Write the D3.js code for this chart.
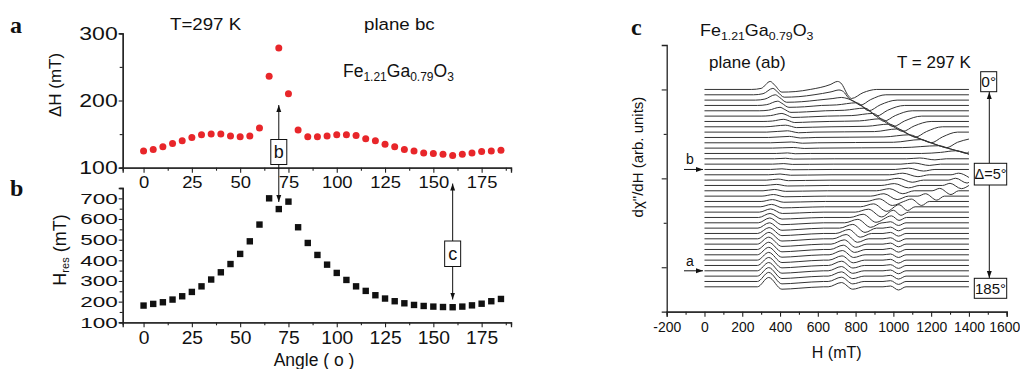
<!DOCTYPE html>
<html><head><meta charset="utf-8">
<script src="https://cdn.jsdelivr.net/npm/d3@7"></script>
<style>
body{margin:0;background:#fff}
svg{display:block;font-family:"Liberation Sans",Arial,sans-serif}
.sx{transform-box:fill-box}
</style></head><body>
<svg id="chart" width="1020" height="369"></svg>
<script>
// ---------- data ----------
const angles = [0,5,10,15,20,25,30,35,40,45,50,55,60,65,70,75,80,85,90,95,100,105,110,115,120,125,130,135,140,145,150,155,160,165,170,175,180,185];
const deltaH = [125,127,131,136,140,145,149,150,150,147,146,147,159,236,278,210,156,146,146,147,149,149,148,143,140,135,131,127,125,122,121,120,118,120,122,124,125,126];
const hRes = [181,189,197,210,226,247,274,307,342,382,431,492,573,700,648,684,560,484,426,379,339,305,274,252,231,215,202,192,184,179,176,174,173,176,182,190,202,213];
const angleTicks = [0,25,50,75,100,125,150,175];
const dHTicks = [100,200,300];
const hResTicks = [100,200,300,400,500,600,700];
const fieldTicks = [-200,0,200,400,600,800,1000,1200,1400,1600];
const traceTicks = [50/6, 100/6, 150/6, 200/6, 250/6];

// spectra, plane (ab), angles 0..185 step 5 (trace k = angle/5).
// Traces 0-12, read point by point: [field mT, offset in trace spacings]
const upperTraces = [
 [[0,0],[250,0],[300,0.2],[348,1.5],[372,0.8],[410,-0.5],[480,-0.4],[560,0],[665,0.9],[705,1.5],[722,1.2],[762,-1.2],[778,-1.7],[840,-0.6],[912,0],[1400,0]],
 [[0,0],[260,0],[310,0.2],[362,1.2],[385,0.6],[422,-0.45],[500,-0.35],[580,0],[670,0.55],[712,0.9],[735,0.6],[765,-0.68],[800,-1.43],[825,-1.95],[880,-0.9],[960,0],[1400,0]],
 [[0,0],[270,0],[320,0.2],[375,1.0],[398,0.5],[435,-0.4],[515,-0.3],[600,0],[680,0.3],[725,0.5],[760,0.25],[790,-0.2],[830,-1.07],[870,-1.99],[930,-0.9],[1020,0],[1400,0]],
 [[0,0],[280,0],[330,0.15],[388,0.8],[410,0.4],[447,-0.35],[530,-0.25],[620,0],[700,0.1],[804,0.5],[850,-0.51],[880,-1.22],[911,-2.0],[970,-0.9],[1060,0],[1400,0]],
 [[0,0],[290,0],[340,0.12],[400,0.65],[422,0.3],[458,-0.3],[540,-0.2],[640,0],[740,0.1],[849,0.5],[900,-0.73],[950,-1.95],[1010,-0.9],[1100,0],[1400,0]],
 [[0,0],[300,0],[350,0.1],[410,0.5],[432,0.25],[468,-0.25],[550,-0.15],[650,0],[780,0.1],[891,0.5],[950,-0.94],[1000,-1.95],[1060,-0.9],[1150,0],[1400,0]],
 [[0,0],[310,0],[360,0.08],[420,0.4],[442,0.2],[478,-0.2],[560,-0.1],[660,0],[820,0.1],[930,0.5],[1000,-0.96],[1050,-1.86],[1110,-0.85],[1200,0],[1400,0]],
 [[0,0],[320,0],[430,0.3],[452,0.15],[488,-0.15],[570,-0.08],[670,0],[860,0.1],[976,0.5],[1050,-0.86],[1100,-1.76],[1115,-1.95],[1175,-0.9],[1260,0],[1400,0]],
 [[0,0],[330,0],[440,0.25],[462,0.12],[498,-0.12],[580,0],[900,0.1],[1021,0.6],[1100,-0.75],[1150,-1.37],[1200,-2.0],[1260,-0.9],[1340,0],[1400,0]],
 [[0,0],[340,0],[450,0.2],[472,0.1],[508,-0.1],[590,0],[950,0.1],[1085,0.5],[1150,-0.38],[1200,-1.01],[1250,-1.63],[1280,-1.93],[1340,-0.9],[1400,-0.3]],
 [[0,0],[350,0],[460,0.15],[482,0.08],[518,-0.08],[600,0],[1000,0.1],[1145,0.6],[1200,-0.02],[1250,-0.64],[1300,-1.14],[1350,-1.63],[1385,-1.95],[1400,-1.7]],
 [[0,0],[360,0],[470,0.12],[492,0.06],[528,-0.06],[610,0],[1050,0.1],[1240,0.45],[1300,-0.13],[1350,-0.62],[1400,-1.13]],
 [[0,0],[380,0],[440,0.1],[480,-0.05],[560,0],[1150,0],[1250,0.2],[1330,0.5],[1400,-0.13]]
];
// Traces 13-37: resonance features [peak field, up, trough field, down] (null = none)
const lowL1 = [[430,0.1,470,0.05],[420,0.1,465,0.05],[410,0.12,460,0.06],[400,0.15,455,0.08],[390,0.2,445,0.1],[380,0.2,440,0.1],[370,0.25,430,0.1],[365,0.3,425,0.12],[360,0.35,420,0.15],[355,0.45,415,0.2],[350,0.6,412,0.25],[347,0.75,410,0.3],[345,0.9,410,0.35],[343,1.0,410,0.4],[342,1.1,410,0.4],[341,1.2,410,0.42],[340,1.3,410,0.43],[340,1.35,410,0.44],[340,1.4,410,0.45],[340,1.45,410,0.45],[340,1.5,410,0.45],[340,1.55,410,0.45],[340,1.6,410,0.45],[340,1.7,410,0.45],[340,1.75,410,0.45]];
const lowL2 = [[1140,0.15,1220,0.2],[1110,0.2,1190,0.25],[1080,0.25,1160,0.3],[1050,0.3,1130,0.35],[1025,0.35,1100,0.4],[1005,0.35,1080,0.45],[980,0.4,1050,0.55],[950,0.45,1020,0.65],[925,0.5,995,0.75],[895,0.55,965,0.85],[868,0.55,938,0.9],[840,0.6,908,0.9],[812,0.65,880,0.85],[785,0.7,850,0.8],[765,0.75,825,0.7],[750,0.8,810,0.65],[740,0.8,800,0.6],[735,0.8,795,0.55],[730,0.8,790,0.5],[728,0.8,788,0.5],[726,0.8,786,0.48],[725,0.8,785,0.47],[725,0.8,785,0.46],[725,0.8,785,0.45],[725,0.8,785,0.45]];
const lowL3 = [null,null,null,[1345,0.3,1400,0.5],[1330,0.35,1390,0.55],[1300,0.4,1360,0.6],[1245,0.45,1305,0.7],[1170,0.45,1230,0.75],[1095,0.45,1150,0.75],[1030,0.4,1075,0.7],[1000,0.35,1040,0.6],[990,0.3,1030,0.55],[985,0.2,1027,0.5],[985,0.2,1027,0.5],[985,0.2,1027,0.5],[985,0.2,1027,0.5],[985,0.2,1027,0.5],[985,0.2,1027,0.5],[985,0.15,1027,0.5],[985,0.15,1027,0.55],[985,0.15,1027,0.55],[985,0.15,1027,0.55],[985,0.15,1027,0.55],[985,0.15,1027,0.55],[985,0.15,1027,0.6]];

// ---------- helpers ----------
const svg = d3.select("#chart");
const ink = "#222";
const font = '"Liberation Sans",Arial,sans-serif';
const serif = '"Liberation Serif","Times New Roman",serif';
function styleAxis(g){
  g.select(".domain").attr("stroke", ink).attr("stroke-width", 1.3);
  g.selectAll(".tick line").attr("stroke", ink).attr("stroke-width", 1.1);
  g.selectAll("text").attr("fill", "#111").attr("font-family", font);
}
function stretch(sel, sx, origin){
  sel.attr("class","sx").style("transform-origin", origin).style("transform", `scaleX(${sx})`);
}
function txt(x,y,s,size,opts={}){
  const t = svg.append("text").attr("x",x).attr("y",y).attr("font-size",size).attr("fill",opts.fill||"#111")
    .attr("font-family",opts.family||font).attr("font-weight",opts.weight||"normal").attr("text-anchor",opts.anchor||"start");
  if(typeof s === "string") t.text(s); else s(t);
  return t;
}
function formula(t, small){
  const parts = [["Fe",0],["1.21",1],["Ga",0],["0.79",1],["O",0],["3",1]];
  parts.forEach(([s,sub],i)=>{
    const ts = t.append("tspan").text(s);
    if(sub) ts.attr("font-size", small).attr("dy", 4); else if(i>0) ts.attr("dy", -4);
  });
}
svg.append("defs").html(`<marker id="ah" viewBox="0 0 10 10" refX="10" refY="5" markerWidth="7" markerHeight="7" markerUnits="userSpaceOnUse" orient="auto"><path d="M0,1.5L10,5L0,8.5z" fill="#111"/></marker>`);

// ---------- panels a & b ----------
const xA = d3.scaleLinear().domain([-10.8, 190.2]).range([122.7, 511]);
const yA = d3.scaleLinear().domain([100, 300]).range([167.7, 33.3]);
const yB = d3.scaleLinear().domain([100, 750]).range([322.3, 188]);

function angleAxis(y, size, sx){
  svg.append("g").attr("transform", `translate(0,${y})`)
    .call(d3.axisBottom(xA).tickValues(d3.range(12.5,190,25)).tickSize(3).tickFormat("")).call(styleAxis);
  const g = svg.append("g").attr("transform", `translate(0,${y})`)
    .call(d3.axisBottom(xA).tickValues(angleTicks).tickSize(5).tickPadding(4)).call(styleAxis);
  g.selectAll("text").attr("font-size", size).attr("dy","0.71em");
  stretch(g.selectAll("text"), sx, "center");
}
function valueAxis(scale, minor, major, size, sx){
  svg.append("g").attr("transform", `translate(${xA.range()[0]},0)`)
    .call(d3.axisLeft(scale).tickValues(minor).tickSize(3).tickFormat("")).call(styleAxis);
  const g = svg.append("g").attr("transform", `translate(${xA.range()[0]},0)`)
    .call(d3.axisLeft(scale).tickValues(major).tickSize(4).tickPadding(1)).call(styleAxis);
  g.selectAll("text").attr("font-size", size);
  stretch(g.selectAll("text"), sx, "right center");
}
angleAxis(yA.range()[0], 16, 1.15);
valueAxis(yA, [150,250], dHTicks, 18, 1.28);
angleAxis(yB.range()[0], 18, 1.07);
valueAxis(yB, d3.range(150,750,100), hResTicks, 15, 1.5);

svg.append("g").selectAll("circle").data(angles).join("circle")
  .attr("cx", d=>xA(d)).attr("cy", (d,i)=>yA(deltaH[i])).attr("r", 3.5).attr("fill", "#e8262a");
svg.append("g").selectAll("rect").data(angles).join("rect")
  .attr("x", d=>xA(d)-3.2).attr("y", (d,i)=>yB(hRes[i])-3.2).attr("width", 6.4).attr("height", 6.4).attr("fill", "#111");

function dblArrow(xv, yTop, yBot, boxTop, boxBot, label){
  const x = xA(xv);
  svg.append("line").attr("x1",x).attr("x2",x).attr("y1",boxTop).attr("y2",yTop).attr("stroke","#111").attr("marker-end","url(#ah)");
  svg.append("line").attr("x1",x).attr("x2",x).attr("y1",boxBot).attr("y2",yBot).attr("stroke","#111").attr("marker-end","url(#ah)");
  svg.append("rect").attr("x",x-8).attr("y",boxTop).attr("width",16).attr("height",boxBot-boxTop).attr("fill","#fff").attr("stroke","#111");
  txt(x, (boxTop+boxBot)/2+6, label, 18, {anchor:"middle"});
}
dblArrow(70, 105, 202, 139.5, 164.5, "b");
dblArrow(160, 183.5, 299.5, 241, 266.5, "c");

txt(10, 33, "a", 24, {family: serif, weight: "bold"});
txt(10, 196, "b", 24, {family: serif, weight: "bold"});
txt(631, 35, "c", 24, {family: serif, weight: "bold"});
txt(170, 30, "T=297 K", 17).call(s=>stretch(s,1.1,"left center"));
txt(364, 30, "plane bc", 17).call(s=>stretch(s,1.1,"left center"));
txt(343, 77, t=>formula(t, 12), 17.5);
txt(314, 366, "Angle ( o )", 17.5, {anchor:"middle"});
svg.append("text").attr("transform","translate(61,85) rotate(-90)").attr("text-anchor","middle")
  .attr("font-size",17).attr("fill","#111").text("ΔH (mT)");
svg.append("text").attr("transform","translate(66,250) rotate(-90)").attr("text-anchor","middle")
  .attr("font-size",18).attr("fill","#111")
  .call(t=>{t.append("tspan").text("H");t.append("tspan").attr("font-size",11).attr("dy",3).text("res");t.append("tspan").attr("dy",-3).text(" (mT)");});

// ---------- panel c ----------
const xC = d3.scaleLinear().domain([-200, 1600]).range([666.7, 1006.7]);
const yC = d3.scaleLinear().domain([0, 50]).range([311.7, 45]);
svg.append("g").attr("transform", `translate(0,${yC.range()[0]})`)
  .call(d3.axisBottom(xC).tickValues(d3.range(-100,1600,200)).tickSize(3).tickFormat("")).call(styleAxis);
const cX2 = svg.append("g").attr("transform", `translate(0,${yC.range()[0]})`)
  .call(d3.axisBottom(xC).tickValues(fieldTicks).tickSize(5).tickPadding(5).tickFormat(d=>String(d))).call(styleAxis);
cX2.selectAll("text").attr("font-size", 15).attr("dy","0.71em").attr("x", d=> d===1600 ? -2.5 : 0);
stretch(cX2.selectAll("text"), 0.93, "center");
const cY = svg.append("g").attr("transform", `translate(${xC.range()[0]},0)`)
  .call(d3.axisLeft(yC).tickValues(traceTicks).tickSize(5).tickFormat("")).call(styleAxis);
cY.selectAll(".tick line").attr("x2",(d,i)=> i%2===0 ? -5 : -3);

// assemble control points of traces 13..37 from their features
function featurePts(f, kind){
  if(!f) return [];
  const [p,u,t,v] = f;
  if(kind===1) return [[p-60,0,1],[p,u,0],[t,-v,0],[t+90,-0.6*v,0],[t+220,0,1]];
  if(kind===2) return [[p-70,0,1],[p,u,0],[t,-v,0],[t+60,0,1]];
  return [[p-40,0,1],[p,u,0],[t,-v,0],[t+40,0,1]];
}
function lowTrace(j){
  let pts = [[0,0,1]];
  const feats = [featurePts(lowL1[j],1), featurePts(lowL2[j],2), featurePts(lowL3[j],3)];
  feats.forEach((f,fi)=>{
    f.forEach(pt=>{
      if(pt[2]){
        const clash = feats.some((g,gi)=> gi!==fi && g.some(q=>!q[2] && Math.abs(q[0]-pt[0])<45));
        if(clash) return;
      }
      pts.push(pt);
    });
  });
  pts.sort((a,b)=>a[0]-b[0]);
  const out = [];
  pts.forEach(pt=>{
    if(out.length && pt[0]-out[out.length-1][0] < 4){ if(!pt[2]) out[out.length-1]=pt; return; }
    out.push(pt);
  });
  const inside = out.filter(p=>p[0]<=1400);
  const last = inside[inside.length-1];
  if(last[0] < 1400){
    const nxt = out.find(p=>p[0]>1400);
    if(nxt){ const r=(1400-last[0])/(nxt[0]-last[0]); inside.push([1400, last[1]+r*(nxt[1]-last[1])]); }
    else inside.push([1400,0]);
  }
  return inside.map(p=>[p[0],p[1]]);
}
const traces = upperTraces.concat(lowL1.map((d,j)=>lowTrace(j)));

const baseTop = 50*5/6;
const line = d3.line().x(d=>xC(d[0])).y(d=>yC(d[1])).curve(d3.curveMonotoneX);
svg.append("g").selectAll("path").data(traces).join("path")
  .attr("d",(d,k)=>line(d.map(p=>[p[0], baseTop - k + p[1]])))
  .attr("fill","none").attr("stroke","#333").attr("stroke-width",1);

txt(700, 36, t=>formula(t, 11), 16).call(s=>stretch(s,1.12,"left center"));
txt(709, 68, "plane (ab)", 17);
txt(897, 68, "T = 297 K", 17);
svg.append("text").attr("transform","translate(643,157) rotate(-90)").attr("text-anchor","middle")
  .attr("font-size",15).attr("fill","#111").text("dχ\"/dH (arb. units)");
function sideArrow(k, lab){
  const y = yC(baseTop - k);
  svg.append("line").attr("x1",684).attr("x2",703).attr("y1",y).attr("y2",y).attr("stroke","#111").attr("marker-end","url(#ah)");
  txt(686, y-5, lab, 14);
}
sideArrow(15, "b");
sideArrow(34, "a");
const ax = 989.3;
svg.append("line").attr("x1",ax).attr("x2",ax).attr("y1",163.3).attr("y2",92).attr("stroke","#111").attr("marker-end","url(#ah)");
svg.append("line").attr("x1",ax).attr("x2",ax).attr("y1",185).attr("y2",278).attr("stroke","#111").attr("marker-end","url(#ah)");
function box(x0, y0, x1, y1, s, size){
  svg.append("rect").attr("x",x0).attr("y",y0).attr("width",x1-x0).attr("height",y1-y0).attr("fill","#fff").attr("stroke","#111");
  txt((x0+x1)/2, (y0+y1)/2+size*0.36, s, size, {anchor:"middle"});
}
box(980.7, 71.7, 996.7, 91.7, "0°", 15.5);
box(974.3, 163.3, 1006.7, 185, "Δ=5°", 14.5);
box(974.3, 278.3, 1006.7, 298.3, "185°", 15);
txt(836.7, 358, "H (mT)", 16, {anchor:"middle"});
</script></body></html>
